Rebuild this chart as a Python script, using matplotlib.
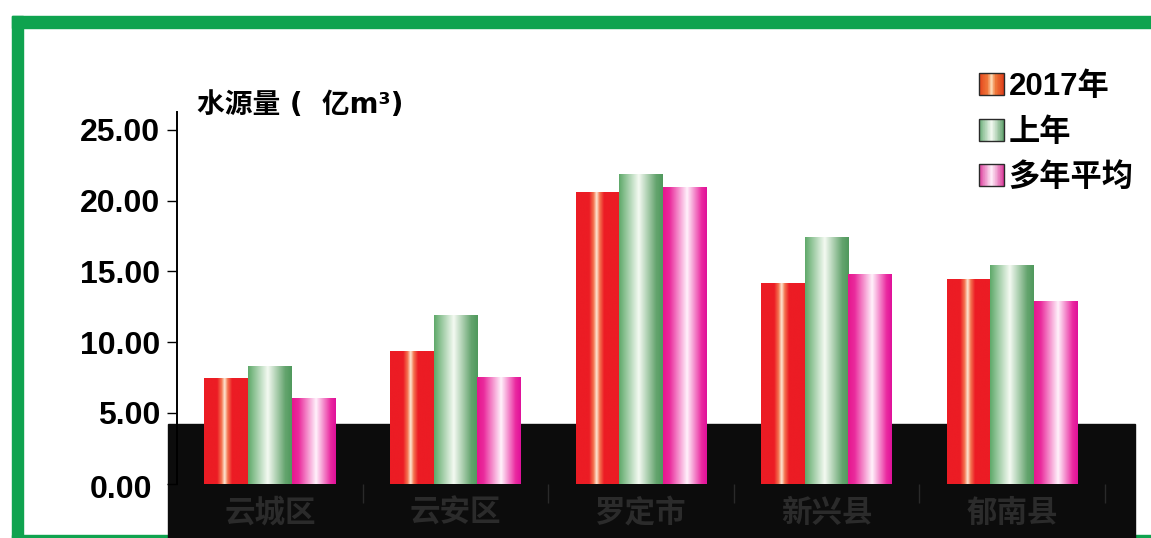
import numpy as np
import matplotlib
matplotlib.use("Agg")
import matplotlib.pyplot as plt
from matplotlib.patches import Rectangle
from matplotlib.legend_handler import HandlerBase
from matplotlib.colors import to_rgb
from matplotlib.transforms import ScaledTranslation

plt.rcParams['font.family'] = ['Liberation Sans', 'Noto Sans CJK SC']
plt.rcParams['font.weight'] = 'bold'

# ---- data -------------------------------------------------------------
districts = ['云城区', '云安区', '罗定市', '新兴县', '郁南县']
series_names = ['2017年', '上年', '多年平均']
water_2017 = [7.46, 9.39, 20.61, 14.18, 14.46]
water_last_year = [8.31, 11.92, 21.91, 17.43, 15.45]
water_average = [6.07, 7.51, 20.97, 14.82, 12.93]
y_ticks = [0, 5, 10, 15, 20, 25]

# ---- cylinder-like shading stops (position across bar, colour) ---------
red_stops = [(0.0, '#ec1c24'), (0.30, '#ec1c24'), (0.40, '#f47450'),
             (0.47, '#fde8d4'), (0.54, '#f47450'), (0.64, '#ec1c24'),
             (1.0, '#ec1c24')]
green_stops = [(0.0, '#5ea969'), (0.45, '#f4faf2'), (0.85, '#64a46e'),
               (1.0, '#4f995c')]
pink_stops = [(0.0, '#e6168f'), (0.15, '#ea2a9c'), (0.55, '#fff2fb'),
              (0.88, '#ea2aa0'), (1.0, '#e0109a')]

leg_red = [(0.0, '#e4441c'), (0.35, '#f07a3c'), (0.5, '#fde0bc'),
           (0.65, '#f07a3c'), (1.0, '#dc3c18')]
leg_green = [(0.0, '#6aae78'), (0.5, '#f4faf2'), (1.0, '#5e9f6a')]
leg_pink = [(0.0, '#dc3c9c'), (0.5, '#fff0fa'), (1.0, '#d83898')]


def gradient_row(stops, n=200):
    t = np.linspace(0, 1, n)
    pos = [s[0] for s in stops]
    cols = np.array([to_rgb(s[1]) for s in stops])
    rgb = np.stack([np.interp(t, pos, cols[:, k]) for k in range(3)], axis=-1)
    return rgb[np.newaxis, :, :]


class GradientHandle:
    def __init__(self, stops):
        self.stops = stops


class GradientHandler(HandlerBase):
    def create_artists(self, legend, orig_handle, xdescent, ydescent,
                       width, height, fontsize, trans):
        row = gradient_row(orig_handle.stops, 40)[0]
        n = len(row)
        arts = []
        for i, c in enumerate(row):
            arts.append(Rectangle((-xdescent + width * i / n, -ydescent),
                                  width / n * 1.05, height, facecolor=c,
                                  edgecolor='none', transform=trans))
        arts.append(Rectangle((-xdescent, -ydescent), width, height,
                              facecolor='none', edgecolor='#2a2a2a',
                              linewidth=1.0, transform=trans))
        return arts


W, H = 1151, 538
fig = plt.figure(figsize=(W / 100, H / 100), dpi=100)
fig.patch.set_facecolor('white')

# green frame and dark footer band
green = '#0fa34f'
fig.add_artist(Rectangle((12 / W, 1 - 28 / H), 1 - 12 / W, 12 / H,
                         transform=fig.transFigure, color=green, zorder=-3))
fig.add_artist(Rectangle((12 / W, 0), 11 / W, 1 - 16 / H,
                         transform=fig.transFigure, color=green, zorder=-3))
fig.add_artist(Rectangle((12 / W, 0), 1 - 12 / W, 3 / H,
                         transform=fig.transFigure, color=green, zorder=-3))
fig.add_artist(Rectangle((168 / W, 0), (1135 - 168) / W, (H - 424) / H,
                         transform=fig.transFigure, color='#0c0c0c', zorder=-1))

ax = fig.add_axes([177 / W, (H - 483.5) / H, (1105 - 177) / W, (483.5 - 112) / H])
ax.set_facecolor('none')

x = np.arange(len(districts))
bw = 0.235
series = [water_2017, water_last_year, water_average]
stops_list = [red_stops, green_stops, pink_stops]
for k, (vals, stops) in enumerate(zip(series, stops_list)):
    bars = ax.bar(x + (k - 1) * bw, vals, width=bw, facecolor='none',
                  edgecolor='none')
    img = gradient_row(stops)
    for b in bars:
        ax.imshow(img, extent=(b.get_x(), b.get_x() + b.get_width(),
                               0, b.get_height()),
                  aspect='auto', interpolation='bilinear', zorder=2)

ax.set_xlim(-0.5, len(districts) - 0.5)
ax.set_ylim(0, 26.27)

# axes styling
for s in ['top', 'right', 'bottom']:
    ax.spines[s].set_visible(False)
ax.spines['left'].set_linewidth(1.4)
ax.spines['left'].set_color('black')

ax.set_yticks(y_ticks)
ax.set_yticklabels([f'{v:.2f}' for v in y_ticks], fontsize=23,
                   fontweight='bold')
ax.tick_params(axis='y', length=7, width=1.0, pad=5, colors='black')
zero_lbl = ax.yaxis.get_major_ticks()[0].label1
zero_lbl.set_transform(zero_lbl.get_transform() +
                       ScaledTranslation(-0.08, -0.035, fig.dpi_scale_trans))

ax.set_xticks(x)
ax.set_xticklabels(districts, fontsize=22, fontweight='bold',
                   color='#2b2b2b')
ax.set_xticks(np.arange(len(districts)) + 0.5, minor=True)
ax.tick_params(axis='x', which='major', length=0, pad=11)
ax.tick_params(axis='x', which='minor', length=14, width=1.0,
               color='#2a2a2a')

fig.text(197 / W, 1 - 105 / H, '水源量 (  亿m³)', fontsize=20,
         fontweight='bold', ha='left', va='center', color='black',
         family=['DejaVu Sans', 'Noto Sans CJK SC'])

handles = [GradientHandle(s) for s in [leg_red, leg_green, leg_pink]]
leg = fig.legend(handles, series_names,
                 handler_map={GradientHandle: GradientHandler()},
                 loc='upper left', bbox_to_anchor=(979 / W, 1 - 72 / H),
                 frameon=False, borderpad=0, borderaxespad=0,
                 handlelength=0.8, handleheight=0.7, handletextpad=0.15,
                 labelspacing=0.5, prop={'weight': 'bold', 'size': 22.5})

fig.savefig('out.png', dpi=100)
